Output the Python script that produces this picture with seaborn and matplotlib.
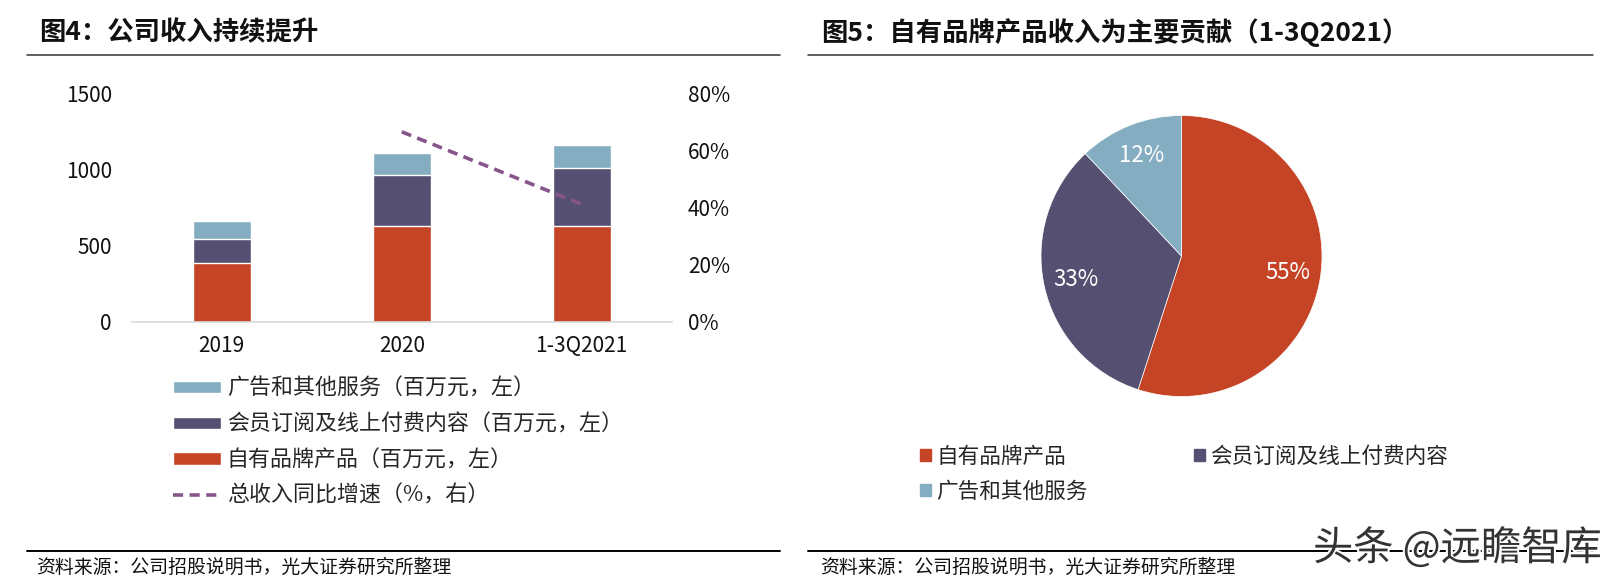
import numpy as np
import matplotlib
matplotlib.use("Agg")
import matplotlib.pyplot as plt
import seaborn as sns
from matplotlib.lines import Line2D
from matplotlib.patches import Patch
from matplotlib.ticker import PercentFormatter
import matplotlib.patheffects as pe

# data
years = ['2019', '2020', '1-3Q2021']
own_brand = [387, 628, 628]        # 自有品牌产品（百万元）
membership = [153, 335, 383]       # 会员订阅及线上付费内容（百万元）
advertising = [123, 143, 149]      # 广告和其他服务（百万元）
growth = [np.nan, 0.665, 0.411]    # 总收入同比增速

pie_labels = ['自有品牌产品', '会员订阅及线上付费内容', '广告和其他服务']
pie_share = [55, 33, 12]

red = '#C54425'
purple = '#555072'
blue = '#85ADC1'
line_col = '#87558C'

sns.set_style('white')
plt.rcParams['font.family'] = ['Noto Sans CJK SC', 'DejaVu Sans']

W, H = 1620, 586
fig = plt.figure(figsize=(W / 100, H / 100), dpi=100)


def fx(px):
    return px / W


def fy(py):
    return 1 - py / H


# ---- left: stacked bars + growth line ----
ax = fig.add_axes([fx(131.8), fy(321.5), fx(671.7 - 131.8), (321.5 - 93.3) / H])

stack2 = np.add(own_brand, membership)
stack3 = stack2 + np.array(advertising)
sns.barplot(x=years, y=stack3, color=blue, width=0.32, saturation=1,
            errorbar=None, label='广告和其他服务（百万元，左）', ax=ax)
sns.barplot(x=years, y=stack2, color=purple, width=0.32, saturation=1,
            errorbar=None, label='会员订阅及线上付费内容（百万元，左）', ax=ax)
sns.barplot(x=years, y=own_brand, color=red, width=0.32, saturation=1,
            errorbar=None, label='自有品牌产品（百万元，左）', ax=ax)
if ax.get_legend() is not None:
    ax.get_legend().remove()

ax2 = ax.twinx()
sns.lineplot(x=np.arange(len(years)), y=growth, color=line_col, lw=2.6,
             linestyle=(0, (2.8, 1.8)), ax=ax2)
ax2.lines[0].set_label('总收入同比增速（%，右）')
if ax2.get_legend() is not None:
    ax2.get_legend().remove()

ax.set_xlim(-0.5, 2.5)
ax.set_ylim(0, 1500)
ax.set_yticks([0, 500, 1000, 1500])
ax2.set_ylim(0, 0.8)
ax2.set_yticks([0, 0.2, 0.4, 0.6, 0.8])
ax2.yaxis.set_major_formatter(PercentFormatter(1.0, decimals=0))
ax.set_xlabel('')
ax.set_ylabel('')
ax2.set_ylabel('')

for s in ['top', 'right', 'left']:
    ax.spines[s].set_visible(False)
ax.spines['bottom'].set_color('#d9d9d9')
ax.spines['bottom'].set_linewidth(1.2)
for s in ax2.spines.values():
    s.set_visible(False)

ax.tick_params(axis='y', length=0, pad=14.4, labelsize=15, labelcolor='#111111')
ax2.tick_params(axis='y', length=0, pad=11.7, labelsize=15, labelcolor='#111111')
ax.tick_params(axis='x', which='major', length=0, pad=10, labelsize=15, labelcolor='#111111')
ax.set_xticks([-0.5, 0.5, 1.5, 2.5], minor=True)
ax.tick_params(axis='x', which='minor', direction='in', length=4.5, width=1, color='#d9d9d9')

h1, l1 = ax.get_legend_handles_labels()
h2, l2 = ax2.get_legend_handles_labels()
fig.legend(h1 + h2, l1 + l2, loc='upper left', bbox_to_anchor=(fx(172.7), fy(378)),
           frameon=False, fontsize=15.8, handlelength=2.2, handleheight=0.5,
           handletextpad=0.27, labelspacing=0.62, borderpad=0, borderaxespad=0)

# ---- right: pie ----
pr = 140.5
pw = pr * 1.25 * 2
pax = fig.add_axes([fx(1181.5 - pw / 2), fy(256 + pw / 2), pw / W, pw / H])
wedges, texts, autotexts = pax.pie(
    pie_share, colors=[red, purple, blue], startangle=90, counterclock=False,
    autopct='%d%%', pctdistance=0.77,
    wedgeprops=dict(edgecolor='white', linewidth=0.5),
    textprops=dict(color='white', fontsize=16))
pax.set_aspect('equal')

order = [0, 2, 1]
fig.legend([Patch(color=[red, purple, blue][i]) for i in order],
           [pie_labels[i] for i in order], ncol=2, loc='upper left',
           bbox_to_anchor=(fx(920), fy(446)), frameon=False, fontsize=15.6,
           handlelength=0.5, handleheight=0.5, handletextpad=0.26,
           columnspacing=4.9, labelspacing=0.6, borderpad=0, borderaxespad=0)

# ---- titles, rules and source notes ----
fig.text(fx(39), fy(33), '图4：公司收入持续提升', fontsize=19, fontweight='bold',
         va='center', ha='left', color='#111111')
fig.text(fx(821), fy(33), '图5：自有品牌产品收入为主要贡献（1-3Q2021）', fontsize=19,
         fontweight='bold', va='center', ha='left', color='#111111')
for x0, x1 in [(27, 780), (808, 1593)]:
    fig.add_artist(Line2D([fx(x0), fx(x1)], [fy(54.5), fy(54.5)], color='#333333', lw=1.1))
    fig.add_artist(Line2D([fx(x0), fx(x1)], [fy(551), fy(551)], color='#000000', lw=1.4))
fig.text(fx(36), fy(567), '资料来源：公司招股说明书，光大证券研究所整理', fontsize=13.6,
         va='center', ha='left', color='#111111')
fig.text(fx(820), fy(567), '资料来源：公司招股说明书，光大证券研究所整理', fontsize=13.6,
         va='center', ha='left', color='#111111')
fig.text(fx(1313), fy(548), '头条 @远瞻智库', fontsize=29, va='center', ha='left',
         color='#333333', fontweight='light',
         path_effects=[pe.withStroke(linewidth=3, foreground='white')])

fig.savefig('out.png', dpi=100, facecolor='white')
